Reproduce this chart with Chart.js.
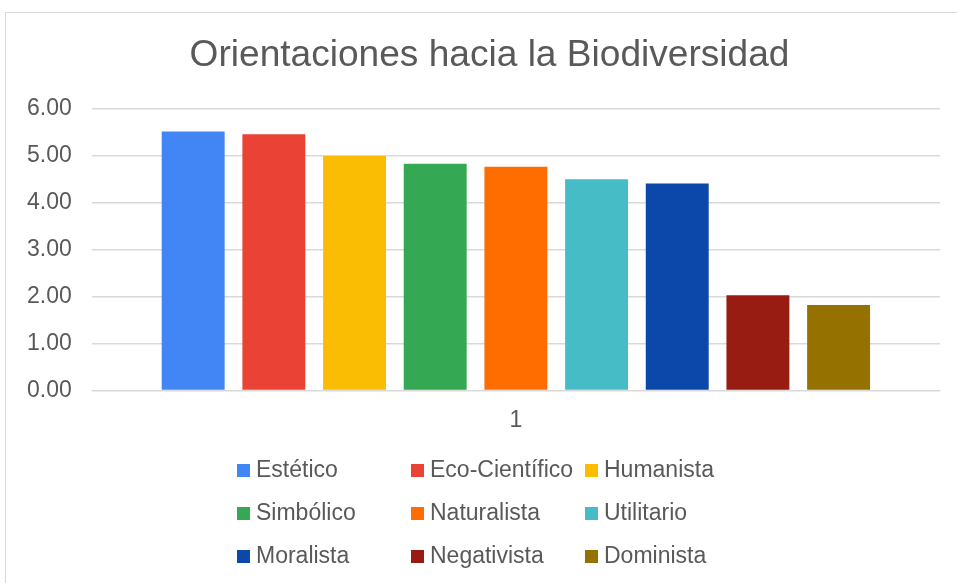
<!DOCTYPE html>
<html>
<head>
<meta charset="utf-8">
<script src="https://cdn.jsdelivr.net/npm/chart.js@4/dist/chart.umd.min.js"></script>
<style>
  html, body { margin: 0; padding: 0; background: #fff; }
  #wrap { position: relative; width: 957px; height: 583px; }
</style>
</head>
<body>
<div id="wrap"><canvas id="c" width="957" height="583"></canvas></div>
<script>
const categories = ["1"];
const seriesNames = ["Estético", "Eco-Científico", "Humanista", "Simbólico", "Naturalista", "Utilitario", "Moralista", "Negativista", "Dominista"];
const seriesValues = [5.52, 5.46, 5.00, 4.83, 4.77, 4.50, 4.41, 2.03, 1.82];
const seriesColors = ["#4285F4", "#EA4335", "#FBBC04", "#34A853", "#FF6D01", "#46BDC6", "#0B48AA", "#991C13", "#957100"];
const yTicks = [0, 1, 2, 3, 4, 5, 6];
const chartTitle = "Orientaciones hacia la Biodiversidad";

const FONT = "'Liberation Sans', Arial, sans-serif";
const TEXT = "#595959";

const datasets = seriesNames.map((name, i) => ({
  label: name,
  data: [seriesValues[i]],
  backgroundColor: seriesColors[i],
  borderWidth: 0,
  categoryPercentage: 0.856,
  barPercentage: 0.78
}));

const framePlugin = {
  id: 'frame',
  beforeDraw(chart) {
    const ctx = chart.ctx;
    ctx.save();
    ctx.fillStyle = '#fff';
    ctx.fillRect(0, 0, chart.width, chart.height);
    ctx.strokeStyle = '#d9d9d9';
    ctx.lineWidth = 1;
    ctx.strokeRect(5.5, 12.5, chart.width + 10, chart.height + 10);
    ctx.restore();
  }
};

const titlePlugin = {
  id: 'excelTitle',
  afterDraw(chart) {
    const ctx = chart.ctx;
    ctx.save();
    ctx.font = "36px " + FONT;
    ctx.fillStyle = TEXT;
    ctx.textAlign = 'center';
    ctx.textBaseline = 'alphabetic';
    ctx.translate(489.5, 66);
    ctx.scale(1.03, 1);
    ctx.fillText(chartTitle, 0, 0);
    ctx.restore();
  }
};

const gridLegendPlugin = {
  id: 'gridLegend',
  afterDraw(chart) {
    const ctx = chart.ctx;
    const colX = [237, 411, 585];
    const rowY = [470, 513, 556];
    ctx.save();
    ctx.font = "23px " + FONT;
    ctx.textBaseline = 'middle';
    ctx.textAlign = 'left';
    chart.data.datasets.forEach((ds, i) => {
      const col = i % 3, row = Math.floor(i / 3);
      const x = colX[col], y = rowY[row];
      ctx.fillStyle = ds.backgroundColor;
      ctx.fillRect(x, y - 6, 13, 13);
      ctx.fillStyle = TEXT;
      ctx.fillText(ds.label, x + 19, y + 1);
    });
    ctx.restore();
  }
};

new Chart(document.getElementById('c'), {
  type: 'bar',
  data: { labels: categories, datasets: datasets },
  plugins: [framePlugin, titlePlugin, gridLegendPlugin],
  options: {
    responsive: false,
    animation: false,
    layout: { padding: { left: 7, right: 17, top: 109, bottom: 133 } },
    plugins: {
      legend: { display: false },
      tooltip: { enabled: false },
      title: { display: false }
    },
    scales: {
      x: {
        grid: { display: false, drawTicks: false },
        border: { display: true, color: '#d9d9d9', width: 1 },
        ticks: { color: TEXT, font: { family: FONT, size: 23 }, padding: 16 }
      },
      y: {
        min: 0,
        max: 6,
        afterBuildTicks(axis) { axis.ticks = yTicks.map(v => ({ value: v })); },
        grid: { color: '#d9d9d9', lineWidth: 1.5, drawTicks: false },
        border: { display: false },
        ticks: {
          color: TEXT,
          font: { family: FONT, size: 23 },
          padding: 20,
          callback: v => Number(v).toFixed(2)
        }
      }
    }
  }
});
</script>
</body>
</html>
